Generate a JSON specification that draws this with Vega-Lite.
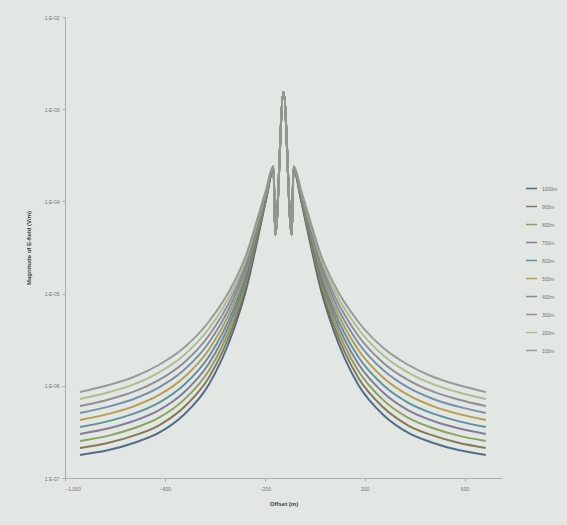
{
  "$schema": "https://vega.github.io/schema/vega-lite/v6.json",
  "autosize": {"type": "none"},
  "width": 437,
  "height": 461,
  "padding": {"left": 65, "top": 17, "right": 65, "bottom": 47},
  "background": "#e3e7e3",
  "config": {
    "view": {"stroke": null},
    "font": "Liberation Sans",
    "axis": {"grid": false, "domainColor": "#a9aea9", "tickColor": "#a9aea9", "labelColor": "#6d726d", "titleColor": "#3c403c", "labelFontSize": 5, "titleFontSize": 6, "titleFontWeight": "bold"}
  },
  "data": {
    "values": [
      {"x": -940, "100m": 8.57e-7, "200m": 7.20e-7, "300m": 6.04e-7, "400m": 5.07e-7, "500m": 4.26e-7, "600m": 3.58e-7, "700m": 3.00e-7, "800m": 2.52e-7, "900m": 2.12e-7, "1000m": 1.78e-7},
      {"x": -825, "100m": 1.02e-6, "200m": 8.52e-7, "300m": 7.11e-7, "400m": 5.94e-7, "500m": 4.96e-7, "600m": 4.14e-7, "700m": 3.46e-7, "800m": 2.88e-7, "900m": 2.41e-7, "1000m": 2.01e-7},
      {"x": -725, "100m": 1.246e-6, "200m": 1.037e-6, "300m": 8.64e-7, "400m": 7.19e-7, "500m": 5.99e-7, "600m": 4.99e-7, "700m": 4.15e-7, "800m": 3.46e-7, "900m": 2.88e-7, "1000m": 2.40e-7},
      {"x": -625, "100m": 1.681e-6, "200m": 1.392e-6, "300m": 1.153e-6, "400m": 9.54e-7, "500m": 7.90e-7, "600m": 6.54e-7, "700m": 5.42e-7, "800m": 4.49e-7, "900m": 3.71e-7, "1000m": 3.08e-7},
      {"x": -525, "100m": 2.57e-6, "200m": 2.134e-6, "300m": 1.772e-6, "400m": 1.471e-6, "500m": 1.221e-6, "600m": 1.014e-6, "700m": 8.42e-7, "800m": 6.99e-7, "900m": 5.81e-7, "1000m": 4.82e-7},
      {"x": -425, "100m": 4.92e-6, "200m": 4.131e-6, "300m": 3.468e-6, "400m": 2.912e-6, "500m": 2.445e-6, "600m": 2.053e-6, "700m": 1.723e-6, "800m": 1.447e-6, "900m": 1.215e-6, "1000m": 1.02e-6},
      {"x": -325, "100m": 1.303e-5, "200m": 1.144e-5, "300m": 1.004e-5, "400m": 8.81e-6, "500m": 7.73e-6, "600m": 6.79e-6, "700m": 5.96e-6, "800m": 5.23e-6, "900m": 4.59e-6, "1000m": 4.03e-6},
      {"x": -275, "100m": 2.622e-5, "200m": 2.379e-5, "300m": 2.159e-5, "400m": 1.959e-5, "500m": 1.778e-5, "600m": 1.613e-5, "700m": 1.464e-5, "800m": 1.328e-5, "900m": 1.205e-5, "1000m": 1.094e-5},
      {"x": -225, "100m": 7.12e-5, "200m": 6.74e-5, "300m": 6.37e-5, "400m": 6.03e-5, "500m": 5.70e-5, "600m": 5.40e-5, "700m": 5.10e-5, "800m": 4.83e-5, "900m": 4.57e-5, "1000m": 4.32e-5},
      {"x": -195, "100m": 1.329e-4, "200m": 1.293e-4, "300m": 1.258e-4, "400m": 1.223e-4, "500m": 1.19e-4, "600m": 1.157e-4, "700m": 1.126e-4, "800m": 1.095e-4, "900m": 1.065e-4, "1000m": 1.036e-4},
      {"x": -165, "100m": 2.421e-4, "200m": 2.401e-4, "300m": 2.381e-4, "400m": 2.362e-4, "500m": 2.342e-4, "600m": 2.323e-4, "700m": 2.304e-4, "800m": 2.284e-4, "900m": 2.265e-4, "1000m": 2.246e-4},
      {"x": -158, "100m": 4.32e-5, "200m": 4.32e-5, "300m": 4.32e-5, "400m": 4.32e-5, "500m": 4.32e-5, "600m": 4.32e-5, "700m": 4.32e-5, "800m": 4.32e-5, "900m": 4.32e-5, "1000m": 4.32e-5},
      {"x": -125, "100m": 1.54e-3, "200m": 1.54e-3, "300m": 1.54e-3, "400m": 1.54e-3, "500m": 1.54e-3, "600m": 1.54e-3, "700m": 1.54e-3, "800m": 1.54e-3, "900m": 1.54e-3, "1000m": 1.54e-3},
      {"x": -92, "100m": 4.32e-5, "200m": 4.32e-5, "300m": 4.32e-5, "400m": 4.32e-5, "500m": 4.32e-5, "600m": 4.32e-5, "700m": 4.32e-5, "800m": 4.32e-5, "900m": 4.32e-5, "1000m": 4.32e-5},
      {"x": -85, "100m": 2.421e-4, "200m": 2.401e-4, "300m": 2.381e-4, "400m": 2.362e-4, "500m": 2.342e-4, "600m": 2.323e-4, "700m": 2.304e-4, "800m": 2.284e-4, "900m": 2.265e-4, "1000m": 2.246e-4},
      {"x": -55, "100m": 1.329e-4, "200m": 1.293e-4, "300m": 1.258e-4, "400m": 1.223e-4, "500m": 1.19e-4, "600m": 1.157e-4, "700m": 1.126e-4, "800m": 1.095e-4, "900m": 1.065e-4, "1000m": 1.036e-4},
      {"x": -25, "100m": 7.12e-5, "200m": 6.74e-5, "300m": 6.37e-5, "400m": 6.03e-5, "500m": 5.70e-5, "600m": 5.40e-5, "700m": 5.10e-5, "800m": 4.83e-5, "900m": 4.57e-5, "1000m": 4.32e-5},
      {"x": 25, "100m": 2.622e-5, "200m": 2.379e-5, "300m": 2.159e-5, "400m": 1.959e-5, "500m": 1.778e-5, "600m": 1.613e-5, "700m": 1.464e-5, "800m": 1.328e-5, "900m": 1.205e-5, "1000m": 1.094e-5},
      {"x": 75, "100m": 1.303e-5, "200m": 1.144e-5, "300m": 1.004e-5, "400m": 8.81e-6, "500m": 7.73e-6, "600m": 6.79e-6, "700m": 5.96e-6, "800m": 5.23e-6, "900m": 4.59e-6, "1000m": 4.03e-6},
      {"x": 175, "100m": 4.92e-6, "200m": 4.131e-6, "300m": 3.468e-6, "400m": 2.912e-6, "500m": 2.445e-6, "600m": 2.053e-6, "700m": 1.723e-6, "800m": 1.447e-6, "900m": 1.215e-6, "1000m": 1.02e-6},
      {"x": 275, "100m": 2.57e-6, "200m": 2.134e-6, "300m": 1.772e-6, "400m": 1.471e-6, "500m": 1.221e-6, "600m": 1.014e-6, "700m": 8.42e-7, "800m": 6.99e-7, "900m": 5.81e-7, "1000m": 4.82e-7},
      {"x": 375, "100m": 1.681e-6, "200m": 1.392e-6, "300m": 1.153e-6, "400m": 9.54e-7, "500m": 7.90e-7, "600m": 6.54e-7, "700m": 5.42e-7, "800m": 4.49e-7, "900m": 3.71e-7, "1000m": 3.08e-7},
      {"x": 475, "100m": 1.246e-6, "200m": 1.037e-6, "300m": 8.64e-7, "400m": 7.19e-7, "500m": 5.99e-7, "600m": 4.99e-7, "700m": 4.15e-7, "800m": 3.46e-7, "900m": 2.88e-7, "1000m": 2.40e-7},
      {"x": 575, "100m": 1.02e-6, "200m": 8.52e-7, "300m": 7.11e-7, "400m": 5.94e-7, "500m": 4.96e-7, "600m": 4.14e-7, "700m": 3.46e-7, "800m": 2.88e-7, "900m": 2.41e-7, "1000m": 2.01e-7},
      {"x": 685, "100m": 8.57e-7, "200m": 7.20e-7, "300m": 6.04e-7, "400m": 5.07e-7, "500m": 4.26e-7, "600m": 3.58e-7, "700m": 3.00e-7, "800m": 2.52e-7, "900m": 2.12e-7, "1000m": 1.78e-7}
    ]
  },
  "transform": [
    {"fold": ["1000m", "900m", "800m", "700m", "600m", "500m", "400m", "300m", "200m", "100m"], "as": ["series", "E"]}
  ],
  "mark": {"type": "line", "strokeWidth": 2, "interpolate": "monotone", "opacity": 0.9},
  "encoding": {
    "x": {
      "field": "x", "type": "quantitative",
      "scale": {"domain": [-1000, 750], "nice": false, "zero": false},
      "axis": {"values": [-1000, -600, -200, 200, 600], "title": "Offset (m)", "tickSize": 3, "labelPadding": 5, "titlePadding": 9}
    },
    "y": {
      "field": "E", "type": "quantitative",
      "scale": {"type": "log", "domain": [1e-7, 1e-2], "nice": false},
      "axis": {"values": [1e-7, 1e-6, 1e-5, 1e-4, 1e-3, 1e-2], "labelExpr": "'1.E-0' + round(-log(datum.value)/LN10)", "title": "Magnitude of E-field (V/m)", "tickSize": 3, "labelPadding": 3, "titlePadding": 13}
    },
    "color": {
      "field": "series", "type": "nominal",
      "scale": {
        "domain": ["1000m", "900m", "800m", "700m", "600m", "500m", "400m", "300m", "200m", "100m"],
        "range": ["#3f5f7e", "#7d6a4a", "#7f9a4f", "#7a7090", "#4f8a96", "#b0953f", "#6d86a3", "#8a8290", "#a7b98a", "#8e938e"]
      },
      "legend": {
        "title": null, "orient": "none", "legendX": 460, "legendY": 165,
        "symbolType": "stroke", "symbolStrokeWidth": 1.5, "symbolSize": 120,
        "labelFontSize": 5, "labelColor": "#6d726d", "rowPadding": 8
      }
    },
    "detail": {"field": "series"}
  }
}
